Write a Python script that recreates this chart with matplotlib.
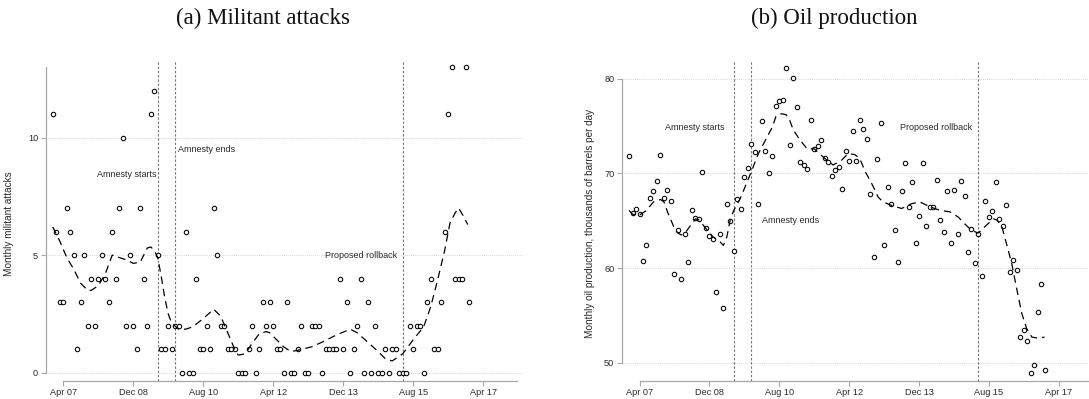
import matplotlib
matplotlib.use("Agg")
import matplotlib.pyplot as plt

# months counted from Jan 2007 (0) to Dec 2016 (119)
months = list(range(120))

attacks = [11, 6, 3, 3, 7, 6, 5, 1, 3, 5, 2, 4, 2, 4, 5, 4, 3, 6, 4, 7,
           10, 2, 5, 2, 1, 7, 4, 2, 11, 12, 5, 1, 1, 2, 1, 2, 2, 0, 6, 0,
           0, 4, 1, 1, 2, 1, 7, 5, 2, 2, 1, 1, 1, 0, 0, 0, 1, 2, 0, 1,
           3, 2, 3, 2, 1, 1, 0, 3, 0, 0, 1, 2, 0, 0, 2, 2, 2, 0, 1, 1,
           1, 1, 4, 1, 3, 0, 1, 2, 4, 0, 3, 0, 2, 0, 0, 1, 0, 1, 1, 0,
           0, 0, 2, 1, 2, 2, 0, 3, 4, 1, 1, 3, 6, 11, 13, 4, 4, 4, 13, 3]

oil = [71.9, 65.8, 66.2, 65.7, 60.7, 62.4, 67.4, 68.1, 69.2, 72.0,
       67.4, 68.3, 67.1, 59.4, 64.0, 58.9, 63.6, 60.6, 66.1, 65.3,
       65.2, 70.2, 64.2, 63.4, 63.1, 57.5, 63.6, 55.8, 66.8, 65.0,
       61.8, 67.3, 66.2, 69.6, 70.6, 73.1, 72.3, 66.8, 75.6, 72.4,
       70.1, 71.9, 77.1, 77.7, 77.8, 81.2, 73.0, 80.1, 77.0, 71.2,
       70.9, 70.5, 75.7, 72.6, 72.9, 73.5, 71.6, 71.2, 69.7, 70.4,
       70.7, 68.4, 72.4, 71.3, 74.5, 71.3, 75.7, 74.7, 73.6, 67.8,
       61.2, 71.5, 75.3, 62.4, 68.6, 66.8, 64.0, 60.6, 68.1, 71.1,
       66.5, 69.1, 62.7, 65.5, 71.1, 64.5, 66.5, 66.5, 69.3, 65.1,
       63.8, 68.1, 62.7, 68.3, 63.6, 69.2, 67.6, 61.7, 64.1, 60.5,
       63.6, 59.2, 67.1, 65.4, 66.0, 69.1, 65.2, 64.5, 66.7, 59.6,
       60.9, 59.8, 52.7, 53.5, 52.3, 48.9, 49.8, 55.4, 58.3, 49.2]

# smoothed trend
att_smooth_m = [0, 2, 4, 6, 8, 10, 11, 13, 15, 17, 19, 21, 23, 25, 27, 28, 29,
                30, 31, 32, 33, 34, 36, 38, 40, 43, 46, 48, 50, 52, 53, 55,
                57, 59, 61, 62, 64, 66, 68, 70, 74, 77, 81, 85, 87, 90, 93,
                95, 97, 100, 103, 106, 108, 110, 112, 113.5, 115, 116, 117.2, 118.6]
att_smooth = [6.2, 5.6, 4.9, 4.4, 3.8, 3.5, 3.5, 3.7, 4.2, 5.0, 4.9, 4.8, 4.65,
              4.7, 5.3, 5.35, 5.2, 4.9, 4.1, 3.2, 2.5, 2.1, 1.85, 1.85, 1.95,
              2.3, 2.7, 2.4, 1.7, 1.0, 0.75, 0.8, 1.25, 1.65, 1.75, 1.7, 1.4,
              1.1, 0.9, 0.95, 1.1, 1.3, 1.6, 1.85, 1.7, 1.3, 0.9, 0.6, 0.5,
              0.8, 1.4, 1.95, 2.8, 3.95, 5.2, 6.35, 6.8, 7.0, 6.7, 6.3]

oil_smooth_m = [0, 1, 3, 5, 7, 9, 10, 11, 13, 14, 15, 16, 18, 19, 20, 22, 24,
                26, 27, 28, 29, 30, 32, 34, 35, 37, 39, 41, 42, 43, 44, 45, 46,
                47, 49, 51, 53, 56, 58.4, 60.8, 62.7, 64.6, 66, 67.6, 69.5,
                71.3, 72.7, 75, 78, 80.8, 83.2, 86, 89, 91.8, 94.2, 96, 98,
                99.9, 101.9, 104.2, 105.2, 106.6, 108, 109.5, 111, 112.4,
                113.8, 115.3, 117.2, 118.9]
oil_smooth = [66.1, 65.7, 65.6, 66.1, 67.0, 67.25, 67.0, 65.95, 64.2, 63.7,
              63.5, 63.7, 64.7, 65.2, 65.1, 64.2, 63.3, 62.8, 62.4, 63.3, 65.2,
              66.1, 67.5, 69.3, 70.2, 72.1, 73.5, 74.9, 76.0, 76.3, 76.3, 76.2,
              75.6, 74.6, 73.5, 72.6, 72.6, 71.6, 70.9, 71.4, 72.1, 72.0, 71.6,
              70.2, 68.9, 67.5, 67.0, 66.65, 66.3, 66.8, 67.0, 66.5, 66.1,
              65.95, 65.4, 64.7, 64.0, 63.7, 64.4, 65.2, 65.1, 64.5, 62.6,
              60.5, 57.7, 55.2, 53.6, 52.7, 52.6, 52.7]

tick_months = [3, 23, 43, 63, 83, 103, 123]
tick_labels = ["Apr 07", "Dec 08", "Aug 10", "Apr 12", "Dec 13", "Aug 15", "Apr 17"]

events = [30, 35, 100]  # amnesty starts, amnesty ends, proposed rollback

plt.rcParams["font.family"] = ["Liberation Sans", "DejaVu Sans"]
GRAY = "#a8a8a8"
TXT = "#2a2a2a"

fig = plt.figure(figsize=(10.89, 3.99), dpi=100)


def setup(ax, ylim, ybounds, yticks, ylabel, label_x):
    ax.set_xlim(-2, 134.4)
    ax.set_ylim(*ylim)
    for s in ["top", "right"]:
        ax.spines[s].set_visible(False)
    for s in ["left", "bottom"]:
        ax.spines[s].set_color(GRAY)
        ax.spines[s].set_linewidth(0.9)
    ax.spines["left"].set_bounds(*ybounds)
    ax.spines["bottom"].set_bounds(3, 132.7)
    ax.set_xticks(tick_months)
    ax.set_xticklabels(tick_labels)
    ax.set_yticks(yticks)
    ax.tick_params(axis="both", labelsize=6.6, colors=GRAY, labelcolor=TXT,
                   length=3.5, width=0.8, pad=2)
    ax.yaxis.grid(True, linestyle=(0, (1, 1.5)), color="#c8c8c8", linewidth=0.6)
    ax.set_axisbelow(True)
    ax.set_ylabel(ylabel, fontsize=7.2, color=TXT)
    ax.yaxis.set_label_coords(label_x, 0.49)
    for m in events:
        ax.axvline(m, color="#777777", linestyle=(0, (2.2, 1.6)), linewidth=0.8, zorder=1)


# (a) militant attacks
ax1 = fig.add_axes([0.042, 0.0459, 0.4383, 0.8038])
setup(ax1, (-0.34, 13.3), (0, 13), [0, 5, 10], "Monthly militant attacks", -0.066)
ax1.plot(months, attacks, linestyle="none", marker="o", markersize=3.2,
         markerfacecolor="white", markeredgecolor="black", markeredgewidth=0.75, zorder=3)
ax1.plot(att_smooth_m, att_smooth, color="black", linewidth=0.9,
         dashes=(6, 4), zorder=4)
ax1.text(29.7, 8.45, "Amnesty starts", fontsize=6.5, color=TXT, ha="right", va="center")
ax1.text(35.8, 9.5, "Amnesty ends", fontsize=6.5, color=TXT, ha="left", va="center")
ax1.text(98.3, 5.0, "Proposed rollback", fontsize=6.5, color=TXT, ha="right", va="center")

# (b) oil production
ax2 = fig.add_axes([0.5712, 0.0459, 0.4377, 0.8038])
setup(ax2, (48.1, 82.0), (50, 80), [50, 60, 70, 80],
      "Monthly oil production, thousands of barrels per day", -0.057)
ax2.plot(months, oil, linestyle="none", marker="o", markersize=3.2,
         markerfacecolor="white", markeredgecolor="black", markeredgewidth=0.75, zorder=3)
ax2.plot(oil_smooth_m, oil_smooth, color="black", linewidth=0.9,
         dashes=(6, 4), zorder=4)
ax2.text(27.4, 74.9, "Amnesty starts", fontsize=6.5, color=TXT, ha="right", va="center")
ax2.text(38.0, 65.0, "Amnesty ends", fontsize=6.5, color=TXT, ha="left", va="center")
ax2.text(98.3, 74.9, "Proposed rollback", fontsize=6.5, color=TXT, ha="right", va="center")

fig.text(263 / 1089, 1 - 18 / 399, "(a) Militant attacks", fontsize=16.5,
         family="Liberation Serif", ha="center", va="center", color="#111111")
fig.text(834 / 1089, 1 - 18 / 399, "(b) Oil production", fontsize=16.5,
         family="Liberation Serif", ha="center", va="center", color="#111111")

fig.savefig("out.png", dpi=100)
